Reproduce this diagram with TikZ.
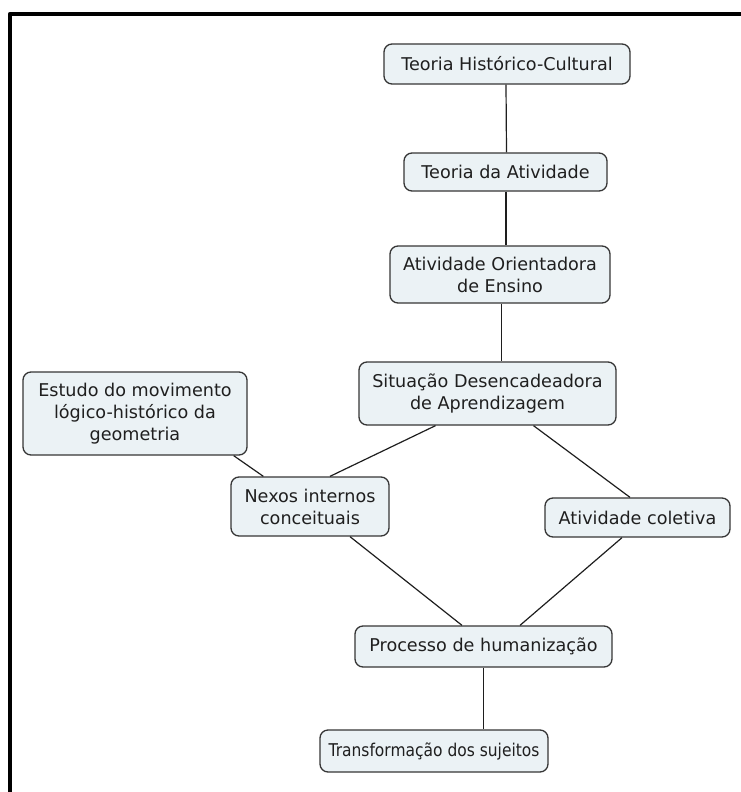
\documentclass[tikz,border=0pt]{standalone}
\usepackage{fontspec}
\usepackage{graphicx}
\setmainfont{DejaVu Sans}
\usetikzlibrary{calc}
\definecolor{boxfill}{HTML}{EBF2F5}
\definecolor{boxline}{HTML}{363636}
\definecolor{linkline}{HTML}{1E1E1E}
\begin{document}
\begin{tikzpicture}[x=1pt,y=-1pt,
  concept/.style={draw=boxline, fill=boxfill, line width=1.3pt, rounded corners=8pt,
    inner sep=0pt, align=center, text=black!88,
    font=\fontsize{17.6}{22}\selectfont},
  link/.style={draw=linkline, line width=1.2pt}]
  \useasboundingbox (0,0) rectangle (741,792);
  % frame on the left and top edges
  \draw[line width=4.6pt, line join=round] (10,792) -- (10,14) -- (741,14);

  \node[concept, minimum width=246pt, minimum height=40pt] (ths) at (507,64) {Teoria Histórico-Cultural};
  \node[concept, minimum width=203pt, minimum height=38pt] (ta) at (505.5,172) {Teoria da Atividade};
  \node[concept, minimum width=220pt, minimum height=57pt] (aoe) at (500,274.5) {Atividade Orientadora\\de Ensino};
  \node[concept, minimum width=257pt, minimum height=63pt] (sda) at (487.5,393.5) {Situação Desencadeadora\\de Aprendizagem};
  \node[concept, minimum width=224pt, minimum height=83pt] (est) at (135,413.5) {Estudo do movimento\\lógico-histórico da\\geometria};
  \node[concept, minimum width=158pt, minimum height=59pt] (nex) at (310,506.5) {Nexos internos\\conceituais};
  \node[concept, minimum width=185pt, minimum height=39pt] (col) at (637.5,517.5) {Atividade coletiva};
  \node[concept, minimum width=257pt, minimum height=41pt] (hum) at (483.5,646.5) {Processo de humanização};
  \node[concept, minimum width=228pt, minimum height=42pt] (tra) at (434,751) {\scalebox{0.88}[1]{Transformação dos sujeitos}};

  \draw[link] ($(ths.south)+(-1,0)$) -- ($(ta.north)+(1,0)$);
  \draw[link] ($(ta.south)+(0.5,0)$) -- ($(aoe.north)+(6,0)$);
  \draw[link] ($(aoe.south)+(1.5,0)$) -- ($(sda.north)+(14,0)$);
  \draw[link] ($(sda.south)+(-52,0)$) -- ($(nex.north)+(20,0)$);
  \draw[link] ($(sda.south)+(46,0)$) -- ($(col.north)+(-7.5,0)$);
  \draw[link] ($(est.south east)+(-14,0)$) -- ($(nex.north west)+(33,0)$);
  \draw[link] ($(nex.south)+(40,0)$) -- ($(hum.north)+(-21.5,0)$);
  \draw[link] ($(col.south)+(-15.5,0)$) -- ($(hum.north)+(36.5,0)$);
  \draw[link] (hum.south) -- ($(tra.north)+(49.5,0)$);
\end{tikzpicture}
\end{document}
